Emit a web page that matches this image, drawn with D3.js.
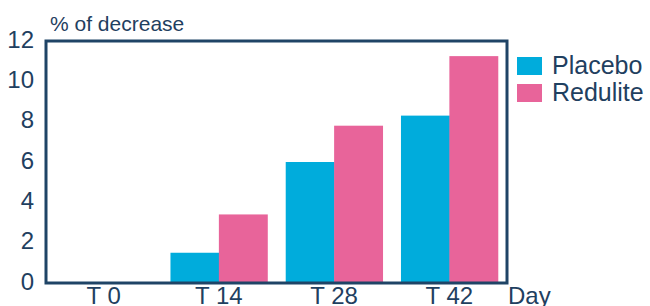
<!DOCTYPE html>
<html>
<head>
<meta charset="utf-8">
<script src="https://cdn.jsdelivr.net/npm/d3@7"></script>
<style>
  body { margin: 0; background: #fff; }
  svg { display: block; }
  text { font-family: "Liberation Sans", Arial, sans-serif; fill: #1f4060; }
</style>
</head>
<body>
<div></div>
<script>
//size of the svg
var width = 650;
var height = 306;

//chart data
var days = ["T 0", "T 14", "T 28", "T 42"];
var seriesNames = ["Placebo", "Redulite"];
var placebo = [0, 1.5, 6.0, 8.3];
var redulite = [0, 3.4, 7.8, 11.25];
var yTicks = [0, 2, 4, 6, 8, 10, 12];

var colors = ["#00acdc", "#e8649a"];
var frameColor = "#1f4466";

//margins around the plot frame
var margin = {top: 41, right: 143, bottom: 23, left: 46};

var svg = d3.select("div")
            .append("svg")
            .attr("width", width)
            .attr("height", height);

//build rows for the bars
var rows = days.map(function(d, i) {
  return {Day: d, Values: [placebo[i], redulite[i]]};
});

//x scale for the day groups
var xScale = d3.scaleBand()
               .domain(days)
               .range([margin.left, width - margin.right])
               .paddingInner(0.16)
               .paddingOuter(0.08);

//inner scale for each series in a group
var xInner = d3.scaleBand()
               .domain(seriesNames)
               .range([0, xScale.bandwidth()]);

var yScale = d3.scaleLinear()
               .domain([0, 12])
               .range([height - margin.bottom, margin.top]);

//bars
var groups = svg.selectAll("nonexistant")
                .data(rows)
                .enter()
                .append("g")
                .attr("transform", function(d) {
                  return "translate(" + xScale(d.Day) + ",0)";
                });

groups.selectAll("rect")
      .data(function(d) {
        return d.Values.map(function(v, i) {return {name: seriesNames[i], value: v};});
      })
      .enter()
      .append("rect")
      .attr("x", function(d) {return xInner(d.name);})
      .attr("width", xInner.bandwidth() + 0.5)
      .attr("y", function(d) {return yScale(d.value);})
      .attr("height", function(d) {return yScale(0) - yScale(d.value);})
      .style("fill", function(d, i) {return colors[i];});

//frame around the plot
svg.append("rect")
   .attr("x", margin.left)
   .attr("y", margin.top)
   .attr("width", width - margin.left - margin.right)
   .attr("height", height - margin.top - margin.bottom)
   .style("fill", "none")
   .style("stroke", frameColor)
   .style("stroke-width", 3);

//y tick labels
var yAxis = svg.append("g")
               .attr("transform", "translate(" + margin.left + ",0)")
               .call(d3.axisLeft(yScale).tickValues(yTicks).tickSize(0).tickPadding(12));
yAxis.select(".domain").remove();
yAxis.selectAll("text")
     .attr("dy", "0.26em")
     .style("font-size", "24px")
     .style("font-family", "Liberation Sans, Arial, sans-serif")
     .style("fill", "#1f4060");

//x tick labels
var xAxis = svg.append("g")
               .attr("transform", "translate(0," + (height - margin.bottom) + ")")
               .call(d3.axisBottom(xScale).tickSize(0).tickPadding(4));
xAxis.select(".domain").remove();
xAxis.selectAll("text")
     .style("font-size", "24px")
     .style("font-family", "Liberation Sans, Arial, sans-serif")
     .style("fill", "#1f4060");

//axis titles
svg.append("text")
   .text("% of decrease")
   .attr("x", margin.left + 4)
   .attr("y", 31)
   .style("font-size", "21px");

svg.append("text")
   .text("Day")
   .attr("x", width - margin.right + 1)
   .attr("y", 304)
   .style("font-size", "24px");

//legend
var legend = svg.selectAll("nonexistant")
                .data(seriesNames)
                .enter()
                .append("g")
                .attr("transform", function(d, i) {
                  return "translate(" + (width - margin.right + 10) + "," + (57 + i * 27) + ")";
                });

legend.append("rect")
      .attr("width", 25)
      .attr("height", 18)
      .style("fill", function(d, i) {return colors[i];});

legend.append("text")
      .text(function(d) {return d;})
      .attr("x", 35)
      .attr("y", 17)
      .style("font-size", "25px");
</script>
</body>
</html>
